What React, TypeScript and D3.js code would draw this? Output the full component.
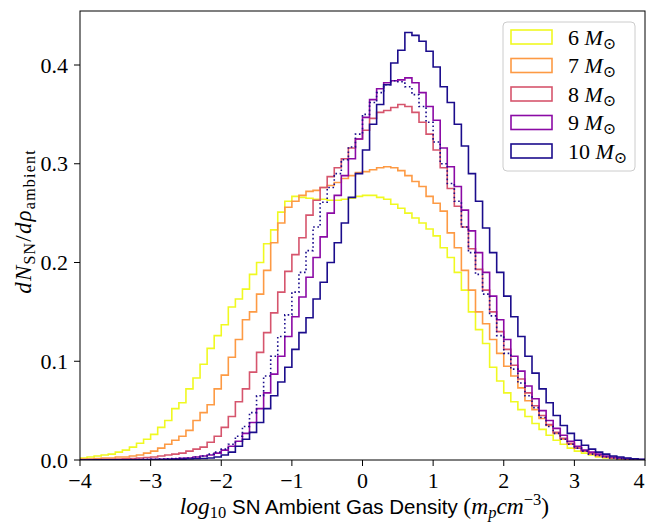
import React from 'react';
import * as d3 from 'd3';

// Histogram bin edges: -4 .. 4, width 0.1 (80 bins)
const binStart = -4;
const binWidth = 0.1;

const m6 = [
  0.002, 0.003, 0.004, 0.005, 0.006, 0.008, 0.010, 0.013, 0.017, 0.021,
  0.026, 0.033, 0.040, 0.052, 0.058, 0.072, 0.083, 0.097, 0.113, 0.126,
  0.137, 0.155, 0.163, 0.173, 0.188, 0.200, 0.219, 0.233, 0.251, 0.262,
  0.267, 0.266, 0.265, 0.264, 0.264, 0.263, 0.263, 0.264, 0.265, 0.267,
  0.268, 0.268, 0.266, 0.264, 0.259, 0.255, 0.250, 0.245, 0.240, 0.234,
  0.227, 0.215, 0.205, 0.190, 0.172, 0.150, 0.132, 0.118, 0.094, 0.080,
  0.068, 0.059, 0.051, 0.044, 0.037, 0.031, 0.025, 0.020, 0.016, 0.012,
  0.009, 0.007, 0.005, 0.003, 0.002, 0.0015, 0.001, 0.0007, 0.0004, 0.0002,
];

const m7 = [
  0.001, 0.001, 0.0015, 0.002, 0.002, 0.003, 0.003, 0.004, 0.005, 0.007,
  0.009, 0.012, 0.016, 0.020, 0.024, 0.030, 0.040, 0.048, 0.056, 0.072,
  0.086, 0.104, 0.122, 0.142, 0.150, 0.168, 0.192, 0.220, 0.240, 0.256,
  0.262, 0.268, 0.272, 0.273, 0.276, 0.278, 0.281, 0.285, 0.288, 0.291,
  0.292, 0.294, 0.296, 0.297, 0.296, 0.293, 0.288, 0.282, 0.277, 0.267,
  0.260, 0.252, 0.230, 0.215, 0.192, 0.172, 0.150, 0.138, 0.122, 0.108,
  0.095, 0.085, 0.073, 0.060, 0.051, 0.042, 0.035, 0.027, 0.021, 0.016,
  0.012, 0.009, 0.006, 0.004, 0.003, 0.002, 0.0015, 0.001, 0.0006, 0.0003,
];

const m8 = [
  0.0003, 0.0004, 0.0005, 0.0006, 0.0008, 0.001, 0.0012, 0.0015, 0.002, 0.0025,
  0.003, 0.004, 0.005, 0.006, 0.007, 0.009, 0.011, 0.013, 0.018, 0.024,
  0.033, 0.044, 0.059, 0.072, 0.089, 0.109, 0.129, 0.149, 0.170, 0.191,
  0.208, 0.225, 0.248, 0.263, 0.276, 0.287, 0.296, 0.305, 0.316, 0.325,
  0.334, 0.346, 0.352, 0.354, 0.357, 0.360, 0.358, 0.352, 0.342, 0.330,
  0.314, 0.296, 0.275, 0.257, 0.236, 0.214, 0.193, 0.172, 0.150, 0.130,
  0.112, 0.096, 0.082, 0.068, 0.055, 0.045, 0.036, 0.028, 0.022, 0.017,
  0.012, 0.009, 0.007, 0.005, 0.003, 0.002, 0.0015, 0.001, 0.0006, 0.0003,
];

const m9 = [
  0.0001, 0.0001, 0.0001, 0.0002, 0.0002, 0.0002, 0.0003, 0.0003, 0.0004, 0.0005,
  0.0006, 0.0008, 0.001, 0.0013, 0.0016, 0.002, 0.003, 0.004, 0.005, 0.007,
  0.010, 0.014, 0.019, 0.027, 0.038, 0.052, 0.068, 0.087, 0.105, 0.125,
  0.145, 0.165, 0.185, 0.205, 0.226, 0.250, 0.268, 0.288, 0.305, 0.325,
  0.347, 0.365, 0.376, 0.382, 0.384, 0.385, 0.387, 0.382, 0.372, 0.358,
  0.344, 0.316, 0.297, 0.277, 0.253, 0.232, 0.210, 0.190, 0.166, 0.142,
  0.122, 0.105, 0.090, 0.075, 0.062, 0.050, 0.040, 0.032, 0.025, 0.019,
  0.014, 0.010, 0.008, 0.006, 0.004, 0.003, 0.002, 0.0015, 0.001, 0.0005,
];

const m10 = [
  0.00005, 0.00005, 0.0001, 0.0001, 0.0001, 0.0001, 0.0002, 0.0002, 0.0002, 0.0003,
  0.0003, 0.0004, 0.0005, 0.0006, 0.0008, 0.001, 0.0012, 0.0015, 0.002, 0.003,
  0.005, 0.008, 0.014, 0.021, 0.028, 0.038, 0.052, 0.065, 0.079, 0.094,
  0.112, 0.129, 0.144, 0.163, 0.180, 0.200, 0.220, 0.240, 0.266, 0.290,
  0.314, 0.340, 0.360, 0.380, 0.402, 0.415, 0.433, 0.430, 0.424, 0.414,
  0.398, 0.378, 0.362, 0.340, 0.318, 0.290, 0.262, 0.235, 0.210, 0.190,
  0.166, 0.145, 0.125, 0.105, 0.088, 0.072, 0.058, 0.045, 0.035, 0.027,
  0.020, 0.015, 0.011, 0.008, 0.006, 0.004, 0.003, 0.002, 0.0013, 0.0008,
];

const m10dotted = [
  0.0001, 0.0001, 0.0001, 0.0002, 0.0002, 0.0003, 0.0003, 0.0004, 0.0005, 0.0006,
  0.0008, 0.001, 0.0012, 0.0015, 0.0018, 0.002, 0.003, 0.004, 0.006, 0.008,
  0.011, 0.016, 0.024, 0.034, 0.048, 0.065, 0.085, 0.105, 0.125, 0.147,
  0.170, 0.190, 0.212, 0.236, 0.261, 0.276, 0.290, 0.304, 0.317, 0.330,
  0.350, 0.362, 0.372, 0.380, 0.384, 0.383, 0.378, 0.370, 0.358, 0.342,
  0.322, 0.300, 0.280, 0.262, 0.236, 0.210, 0.188, 0.168, 0.146, 0.126,
  0.108, 0.092, 0.078, 0.065, 0.053, 0.043, 0.034, 0.027, 0.021, 0.016,
  0.012, 0.009, 0.006, 0.0045, 0.003, 0.002, 0.0014, 0.0009, 0.0005, 0.0003,
];

const seriesLabels = ['6', '7', '8', '9', '10'];
const seriesColors = ['#f0f921', '#fd9a44', '#d6556d', '#8b0aa5', '#1b0c8c'];
const seriesData = [m6, m7, m8, m9, m10];

const xTicks = [-4, -3, -2, -1, 0, 1, 2, 3, 4];
const yTicks = [0.0, 0.1, 0.2, 0.3, 0.4];

const W = 648, H = 522;
const left = 80, right = 645, top = 11, bottom = 460;
const tickLen = 6;

const serif = '"Liberation Serif", "DejaVu Serif", serif';
const sans = '"Liberation Sans", "DejaVu Sans", sans-serif';

export default function App() {
  const x = d3.scaleLinear().domain([-4, 4]).range([left, right]);
  const y = d3.scaleLinear().domain([0, 0.4547]).range([bottom, top]);

  const stepPath = (vals: number[]) => {
    const pts: [number, number][] = [[binStart, 0]];
    vals.forEach((v, i) => {
      const e0 = binStart + i * binWidth;
      pts.push([e0, v]);
      pts.push([e0 + binWidth, v]);
    });
    pts.push([binStart + vals.length * binWidth, 0]);
    return d3.line<[number, number]>().x(d => x(d[0])).y(d => y(d[1]))(pts) || '';
  };

  const fmtY = d3.format('.1f');
  const fmtX = (v: number) => (v < 0 ? '\u2212' + Math.abs(v) : String(v));

  const legX = 503, legY = 22, legW = 132, legH = 149, rowH = 28.5;

  return (
    <svg width={W} height={H} style={{ position: 'absolute', left: 0, top: 0, background: '#fff' }}>
      <defs>
        <clipPath id="plotclip">
          <rect x={left} y={top} width={right - left} height={bottom - top} />
        </clipPath>
      </defs>
      <rect x={0} y={0} width={W} height={H} fill="#fff" />
      <g clipPath="url(#plotclip)">
        {seriesData.map((vals, i) => (
          <path key={i} d={stepPath(vals)} fill="none" stroke={seriesColors[i]} strokeWidth={1.6} strokeLinejoin="miter" />
        ))}
        <path d={stepPath(m10dotted)} fill="none" stroke={seriesColors[4]} strokeWidth={1.6} strokeDasharray="1.6,2.6" />
      </g>
      {/* frame */}
      <rect x={left} y={top} width={right - left} height={bottom - top} fill="none" stroke="#000" strokeWidth={1} />
      {/* x ticks */}
      {xTicks.map(t => (
        <g key={t}>
          <line x1={x(t)} x2={x(t)} y1={bottom} y2={bottom + tickLen} stroke="#000" strokeWidth={1} />
          <text x={Math.min(x(t), 639)} y={bottom + 28} textAnchor="middle" fontFamily={serif} fontSize={22}>{fmtX(t)}</text>
        </g>
      ))}
      {yTicks.map(t => (
        <g key={t}>
          <line x1={left - tickLen} x2={left} y1={y(t)} y2={y(t)} stroke="#000" strokeWidth={1} />
          <text x={left - 12} y={y(t) + 7.5} textAnchor="end" fontFamily={serif} fontSize={22}>{fmtY(t)}</text>
        </g>
      ))}
      {/* x label */}
      <text x={(left + right) / 2 + 2} y={514} textAnchor="middle" fontFamily={serif} fontSize={23.5}>
        <tspan fontStyle="italic">log</tspan>
        <tspan fontSize={16.5} dy={4}>10</tspan>
        <tspan dy={-4} fontFamily={sans} fontSize={20.5}> SN Ambient Gas Density </tspan>
        <tspan>(</tspan>
        <tspan fontStyle="italic">m</tspan>
        <tspan fontStyle="italic" fontSize={16.5} dy={4}>p</tspan>
        <tspan fontStyle="italic" dy={-4}>cm</tspan>
        <tspan fontSize={16.5} dy={-9}>{'\u2212'}3</tspan>
        <tspan dy={9}>)</tspan>
      </text>
      {/* y label */}
      <text transform={`translate(31, ${(top + bottom) / 2 - 14}) rotate(-90)`} textAnchor="middle" fontFamily={serif} fontSize={23} letterSpacing={1.2}>
        <tspan fontStyle="italic">dN</tspan>
        <tspan fontSize={16} dy={4}>SN</tspan>
        <tspan dy={-4}>/</tspan>
        <tspan fontStyle="italic">d{'\u03c1'}</tspan>
        <tspan fontSize={16} dy={4}>ambient</tspan>
      </text>
      {/* legend */}
      <rect x={legX} y={legY} width={legW} height={legH} rx={4} fill="#fff" fillOpacity={0.8} stroke="#cccccc" strokeWidth={1} />
      {seriesLabels.map((lab, i) => {
        const cy = legY + 15 + i * rowH;
        return (
          <g key={lab}>
            <rect x={legX + 8} y={cy - 7} width={41} height={14} fill="none" stroke={seriesColors[i]} strokeWidth={1.6} />
            <text x={legX + 65} y={cy + 7.5} fontFamily={serif} fontSize={22}>
              <tspan>{lab} </tspan>
              <tspan fontStyle="italic">M</tspan>
              <tspan fontSize={16} dy={4}>{'\u2299'}</tspan>
            </text>
          </g>
        );
      })}
    </svg>
  );
}
